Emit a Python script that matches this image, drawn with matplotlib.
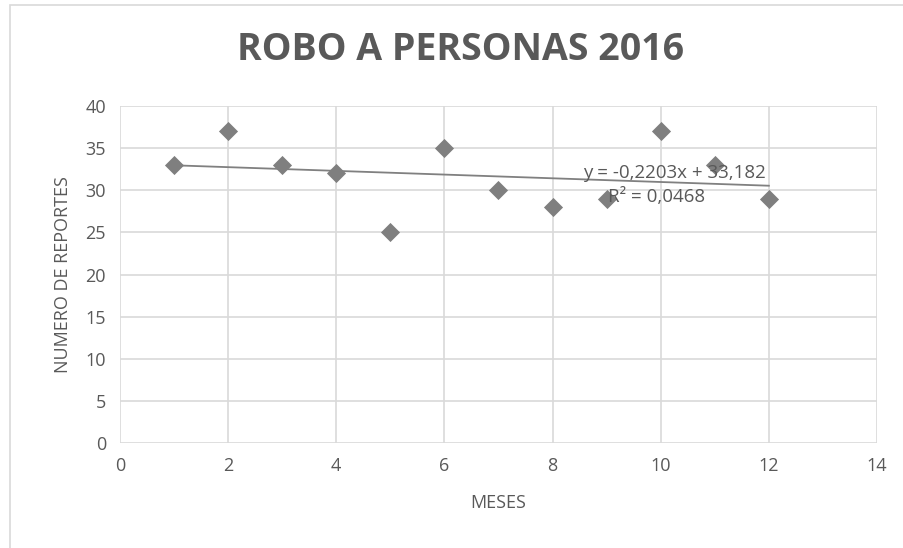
import matplotlib.pyplot as plt
import numpy as np
from matplotlib.patches import Rectangle

meses = [1, 2, 3, 4, 5, 6, 7, 8, 9, 10, 11, 12]
reportes = [33, 37, 33, 32, 25, 35, 30, 28, 29, 37, 33, 29]

plt.rcParams['font.family'] = ['Open Sans', 'DejaVu Sans']
gris = '#595959'
H = 548

fig = plt.figure(figsize=(9.04, 5.48), dpi=100)
ax = fig.add_axes([120 / 904, 1 - 443 / H, (877 - 120) / 904, (443 - 106) / H])

# regresion lineal
m, b = np.polyfit(meses, reportes, 1)
pred = m * np.array(meses) + b
r2 = 1 - np.sum((np.array(reportes) - pred) ** 2) / np.sum((np.array(reportes) - np.mean(reportes)) ** 2)
xs = np.array([meses[0], meses[-1]])
ax.plot(xs, m * xs + b, color='#808080', lw=1.3, zorder=2)

ax.scatter(meses, reportes, marker='D', s=95, color='#7f7f7f', zorder=3, linewidths=0)

ax.text(674, H - 173, ('y = %.4fx + %.3f' % (m, b)).replace('.', ','), transform=None,
        ha='center', va='center', fontsize=13.5, color=gris, zorder=4)
ax.text(657, H - 197, ('R² = %.4f' % r2).replace('.', ','), transform=None,
        ha='center', va='center', fontsize=13.5, color=gris, zorder=4)

ax.set_xlim(0, 14)
ax.set_ylim(0, 40)
ax.set_xticks(range(0, 15, 2))
ax.set_yticks(range(0, 41, 5))
ax.grid(True, color='#d9d9d9', lw=1.2)
ax.set_axisbelow(True)
for s in ax.spines.values():
    s.set_visible(False)
ax.tick_params(length=0, labelsize=13, colors=gris, pad=10)
ax.set_xlabel('MESES', fontsize=13, color=gris, labelpad=14)
ax.set_ylabel('NUMERO DE REPORTES', fontsize=13, color=gris, labelpad=10)

fig.text(461 / 904, 1 - 50 / H, 'ROBO A PERSONAS 2016', ha='center', va='center',
         fontsize=27, fontweight='bold', color=gris)

fig.patches.append(Rectangle((10, -10), 1000, H - 5 + 10, transform=None, fill=False,
                             edgecolor='#d9d9d9', lw=1.2))

fig.savefig('out.png', dpi=100)
